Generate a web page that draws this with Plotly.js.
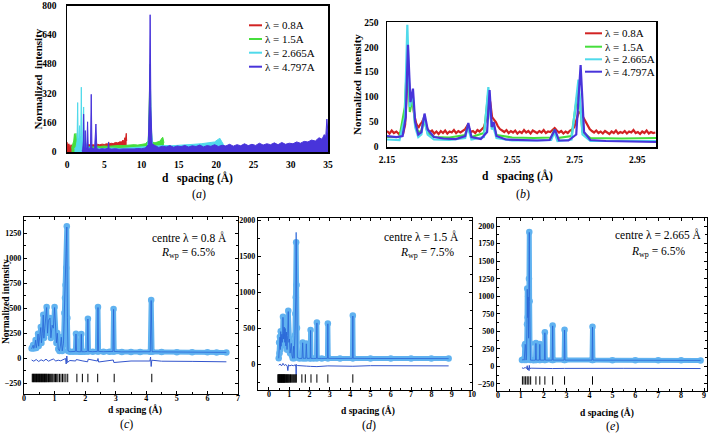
<!DOCTYPE html>
<html><head><meta charset="utf-8">
<script src="https://cdn.plot.ly/plotly-3.0.1.min.js"></script>
<style>html,body{margin:0;padding:0;background:#fff}#chart{width:716px;height:435px}</style>
</head><body><div id="chart"></div>
<script>
// ---------- Panel (a): full patterns ----------
const a_red_x = [0,0.1,0.25,0.4,0.55,0.7,0.9,1.1,1.4,1.7, 2.0,2.3,2.6,2.9,3.2,3.5,3.8,4.1,4.4,4.7, 5.0,5.3,5.5,5.58,5.68,5.9,6.2,6.5,6.8,7.1, 7.3,7.5,7.65,7.75,7.85,7.95,8.0];
const a_red_y = [55,30,45,25,40,22,35,28,30,35, 33,38,35,41,37,40,36,42,39,43, 41,45,43,55,44,48,46,52,50,56, 54,65,58,78,70,102,60];
const a_green_x = [0.6,0.75,0.9,1.0,1.1,1.2,1.3,1.5,1.8, 2.2,2.6,3.0,3.5,4.0,4.5,5.0,5.5, 6.0,6.5,7.0,7.5,8.0,8.5,9.0,9.5,10.0, 10.5,10.9,11.05,11.15,11.25,11.4, 11.8,12.2,12.5,12.7,12.85,13.0];
const a_green_y = [20,35,60,100,70,102,55,45,35, 30,28,30,28,32,30,33,31, 34,33,36,35,38,37,40,38,42, 45,60,300,480,200,55, 50,55,60,75,80,50];
const a_cyan_x = [1.0,1.2,1.35,1.43,1.5,1.6,1.69,1.78,1.85,1.92, 2.0,2.1,2.23,2.33,2.5,2.75,3.0,3.3,3.6,4.0, 4.5,5.0,6.0,7.0,8.0,9.0,10.0,10.8,11.0,11.15, 11.3,11.5,12,13,14,15,16,17,18,19, 19.8,20.3,20.5,20.7,21.0];
const a_cyan_y = [20,25,60,270,60,80,144,70,90,354, 60,70,246,30,50,20,25,18,20,22, 18,20,22,19,21,23,25,30,120,450, 120,35,33,36,34,38,40,42,45,50, 55,70,75,60,40];
const a_blue_x = [2.0,2.1,2.2,2.23,2.3,2.4,2.45,2.5,2.65,2.76, 2.85,3.0,3.15,3.25,3.35,3.5,3.7,3.88,4.0,4.3, 4.7,5.1,5.5,5.57,5.65,6.0,6.5,7.0,7.5,8.0, 8.5,9.0,9.5,10.0,10.5,10.9,11.05,11.15,11.25,11.4, 11.8,12.3,12.8,13.3,13.8,14.3,14.8,15.3,15.8,16.3, 16.8,17.3,17.8,18.3,18.8,19.3,19.8,20.3,20.8,21.3, 21.8,22.3,22.8,23.3,23.8,24.3,24.8,25.3,25.8,26.3, 26.8,27.3,27.8,28.3,28.8,29.3,29.8,30.3,30.8,31.3, 31.8,32.3,32.8,33.3,33.8,34.2,34.5,34.7,34.85,34.95, 35.0];
const a_blue_y = [10,15,60,207,25,30,117,20,25,165, 20,15,30,315,20,18,22,153,18,15, 18,16,20,54,18,16,18,15,17,16, 18,17,19,18,22,40,300,750,250,45, 35,25,32,28,35,26,33,29,36,27, 34,30,38,28,35,31,40,30,37,33, 42,32,40,34,45,35,42,36,48,38, 45,40,50,40,52,42,48,45,55,48, 58,55,65,60,78,70,95,85,180,120, 100];

// ---------- Panel (b): zoom 2.15-3.0 Å ----------
const b_red_x = [2.150,2.158,2.165,2.172,2.180,2.188,2.195,2.202,2.208,2.214, 2.219,2.225,2.231,2.237,2.243,2.250,2.256,2.262,2.268,2.274, 2.280,2.287,2.294,2.301,2.308,2.315,2.322,2.329,2.336,2.343, 2.350,2.357,2.364,2.371,2.378,2.385,2.392,2.399,2.406,2.412, 2.418,2.425,2.432,2.439,2.446,2.453,2.460,2.467,2.474,2.480, 2.486,2.492,2.498,2.504,2.511,2.518,2.525,2.532,2.539,2.546, 2.553,2.560,2.567,2.574,2.581,2.588,2.595,2.602,2.609,2.616, 2.623,2.630,2.637,2.644,2.651,2.658,2.665,2.672,2.679,2.686, 2.693,2.700,2.707,2.714,2.721,2.728,2.735,2.742,2.749,2.756, 2.763,2.770,2.777,2.784,2.791,2.798,2.805,2.812,2.819,2.826, 2.833,2.840,2.847,2.854,2.861,2.868,2.875,2.882,2.889,2.896, 2.903,2.910,2.917,2.924,2.931,2.938,2.945,2.952,2.959,2.966, 2.973,2.980,2.987,2.994,3.001,3.008];
const b_red_y = [32,27,33,28,31,26,30,28,45,120, 140,85,95,65,48,38,45,50,58,45, 35,30,33,27,31,26,32,28,33,27, 31,29,34,28,32,29,33,35,42,38, 30,32,28,34,31,36,40,55,100,90, 60,55,50,42,36,33,30,34,28,32, 29,33,27,31,28,34,29,32,27,33, 30,28,32,29,34,28,31,30,34,38, 33,29,32,27,31,28,33,35,40,55, 70,68,60,50,42,36,32,29,33,28, 31,27,32,29,26,31,28,33,27,30, 28,32,27,31,29,34,28,30,26,31, 28,33,27,30,28,29];
const b_green_x = [2.15,2.19,2.207,2.215,2.223,2.232,2.24,2.25,2.26,2.268, 2.28,2.30,2.35,2.40,2.408,2.42,2.46,2.474,2.485,2.49, 2.50,2.55,2.62,2.675,2.685,2.695,2.74,2.762,2.775,2.80, 2.90,3.01];
const b_green_y = [20,20,80,180,70,100,45,30,32,55, 28,20,19,24,42,20,28,110,40,45, 24,19,18,19,35,18,22,120,30,18, 17,18];
const b_cyan_x = [2.15,2.19,2.207,2.215,2.223,2.232,2.24,2.25,2.26,2.268, 2.28,2.30,2.35,2.40,2.408,2.42,2.46,2.474,2.485,2.49, 2.50,2.55,2.62,2.675,2.685,2.695,2.74,2.762,2.775,2.80, 2.90,3.01];
const b_cyan_y = [15,14,60,245,80,110,40,20,25,60, 25,15,14,18,40,15,20,120,35,40, 18,13,13,14,30,12,15,135,25,12, 12,12];
const b_blue_x = [2.15,2.18,2.20,2.21,2.217,2.225,2.233,2.24,2.25,2.26, 2.27,2.28,2.30,2.33,2.37,2.40,2.41,2.42,2.45,2.47, 2.478,2.485,2.491,2.50,2.53,2.58,2.63,2.67,2.687,2.70, 2.73,2.755,2.769,2.78,2.80,2.85,2.90,2.95,3.01];
const b_blue_y = [22,20,22,60,205,90,117,50,25,30, 67,35,20,17,16,22,48,20,16,30, 114,40,50,22,15,14,13,14,35,13, 13,25,164,30,14,12,11,11,10];

const legendLabels = ['λ = 0.8A','λ = 1.5A','λ = 2.665A','λ = 4.797A'];

// ---------- Panel (c): centre λ = 0.8 Å ----------
const c_obs_x = [0.25,0.28,0.30,0.32,0.35,0.38,0.40,0.43,0.46,0.48, 0.51,0.55,0.57,0.60,0.63,0.65,0.68,0.71,0.74,0.77, 0.80,0.85,0.88,0.92,0.96,1.00,1.03,1.06,1.09,1.12, 1.16,1.19,1.22,1.25,1.29,1.32,1.34,1.36,1.38,1.40, 1.42,1.44,1.50,1.60,1.68,1.70,1.72,1.80,1.86,1.875, 1.89,1.98,2.07,2.09,2.11,2.25,2.40,2.42,2.44,2.60, 2.80,2.91,2.93,2.95,3.20,3.50,3.80,4.13,4.16,4.19, 4.50,5.00,5.50,6.00,6.30,6.62];
const c_obs_y = [95,110,130,95,120,180,100,150,243,120, 200,310,150,250,433,200,300,420,510,250, 380,400,200,330,300,510,250,150,250,90, 70,120,210,70,150,450,600,730,900,1317, 400,70,62,62,65,243,65,62,62,240, 62,62,65,393,65,62,65,510,65,62, 62,65,490,65,60,60,60,62,580,62, 60,58,58,57,56,55];
const c_calc_y = [92,108,128,96,118,178,102,148,240,118, 198,305,152,248,430,198,298,418,505,248, 378,398,202,328,298,505,248,152,248,92, 72,118,208,72,148,448,598,725,895,1310, 402,72,63,63,66,240,66,63,63,238, 63,63,66,390,66,63,66,505,66,63, 63,66,486,66,61,61,61,63,575,63, 61,59,59,58,57,56];
const c_diff_x = [0.25,0.32,0.40,0.48,0.56,0.64,0.72,0.80,0.88,0.96, 1.04,1.12,1.20,1.28,1.36,1.38,1.40,1.42,1.50,1.69, 1.71,1.90,2.08,2.10,2.40,2.42,2.44,2.92,2.94,3.50, 4.12,4.14,4.16,4.18,4.50,5.50,6.62];
const c_diff_y = [-20,-32,-15,-35,-18,-30,-12,-32,-20,-10, -30,-22,-28,-20,-5,-60,20,-45,-25,-30, -15,-28,-38,-12,-30,-5,-40,-20,-45,-30, -30,10,-85,-22,-32,-34,-38];
const c_refl = [0.27,0.29,0.31,0.33,0.35,0.37,0.39,0.41,0.43,0.45, 0.47,0.49,0.51,0.53,0.55,0.57,0.59,0.61,0.63,0.65, 0.67,0.69,0.71,0.73,0.75,0.78,0.80,0.83,0.86,0.89, 0.92,0.95,0.99,1.03,1.07,1.11,1.16,1.21,1.26,1.31, 1.37,1.43,1.73,1.91,2.09,2.41,2.95,4.18];

// ---------- Panel (d): centre λ = 1.5 Å ----------
const d_obs_x = [0.48,0.50,0.52,0.54,0.56,0.58,0.60,0.63,0.66,0.69, 0.72,0.75,0.78,0.80,0.83,0.86,0.89,0.92,0.95,0.98, 1.01,1.04,1.07,1.10,1.13,1.17,1.21,1.24,1.28,1.30, 1.32,1.34,1.36,1.38,1.40,1.50,1.63,1.66,1.69,1.75, 1.81,1.84,1.87,2.00,2.03,2.05,2.07,2.20,2.34,2.36, 2.38,2.60,2.88,2.90,2.92,3.50,4.11,4.13,4.15,5.00, 6.00,7.00,8.00,8.85];
const d_obs_y = [80,300,150,380,200,458,250,420,300,657, 350,520,300,500,250,450,200,400,740,300, 350,150,200,292,120,80,250,80,400,700, 930,1694,1100,500,90,78,80,300,80,80, 80,285,80,80,80,472,80,78,80,579, 80,78,80,565,80,78,80,676,80,78, 78,77,77,76];
const d_calc_y = [80,295,152,375,202,452,248,415,302,650, 348,515,302,495,252,445,202,398,730,302, 348,152,202,288,122,80,248,80,398,695, 925,1830,1090,495,90,78,80,296,80,80, 80,282,80,80,80,468,80,78,80,572, 80,78,80,560,80,78,80,668,80,78, 78,77,77,76];
const d_diff_x = [0.48,0.55,0.62,0.69,0.76,0.83,0.90,0.93,0.96,1.03, 1.10,1.20,1.30,1.33,1.34,1.35,1.40,1.66,1.84,2.05, 2.36,2.90,4.13,5.0,7.0,8.85];
const d_diff_y = [-15,0,-25,10,-20,-5,-30,-90,-10,-25, -15,-22,-10,-40,-150,-5,-20,-30,-28,-32, -35,-25,-30,-22,-24,-25];
const d_refl = [0.44,0.46,0.48,0.50,0.52,0.54,0.56,0.58,0.60,0.62, 0.64,0.66,0.68,0.70,0.72,0.74,0.76,0.78,0.80,0.83, 0.86,0.89,0.92,0.95,0.98,1.02,1.06,1.10,1.15,1.20, 1.25,1.30,1.35,1.62,1.79,2.07,2.36,2.90,4.13];

// ---------- Panel (e): centre λ = 2.665 Å ----------
const e_obs_x = [1.05,1.10,1.15,1.17,1.19,1.21,1.23,1.25,1.27,1.28, 1.30,1.32,1.34,1.355,1.37,1.385,1.40,1.42,1.55,1.64, 1.66,1.68,1.81,1.83,1.85,2.03,2.05,2.07,2.37,2.39, 2.41,2.89,2.91,2.93,4.11,4.13,4.15,5.00,6.00,7.00, 8.00,8.85];
const e_obs_y = [90,100,90,300,319,300,90,150,600,1110, 700,1000,400,1250,1915,930,330,90,88,90, 333,90,90,319,90,90,486,90,90,585, 90,90,523,90,90,566,90,88,88,87, 87,86];
const e_calc_y = [90,98,90,295,315,296,90,148,595,1100, 695,990,402,1240,1910,925,328,90,88,90, 328,90,90,315,90,90,480,90,90,578, 90,90,518,90,90,560,90,88,88,87, 87,86];
const e_diff_x = [1.05,1.12,1.19,1.25,1.28,1.30,1.34,1.36,1.37,1.39, 1.45,1.66,1.83,2.05,2.39,2.91,4.13,5.5,8.85];
const e_diff_y = [-20,-28,-15,-30,10,-50,-20,-60,15,-30, -25,-28,-30,-26,-30,-28,-25,-27,-30];
const e_refl = [1.07,1.14,1.21,1.28,1.35,1.43, 1.66,1.83,2.05,2.39,2.91,4.13];

// ---------- styling ----------
const SERIF = 'Liberation Serif, Times New Roman, serif';
const COLS = ['rgb(210,35,35)','rgb(70,222,60)','rgb(80,218,235)','rgb(72,52,218)'];
const OBS = 'rgb(96,178,240)', CALC = 'rgb(40,100,215)', DIFF = 'rgb(50,85,205)';
const REFL_LEVEL = -200;
const W = 716, H = 435;
const P = x => x / W, Q = y => 1 - y / H;

const traces = [];
const aX = [a_red_x,a_green_x,a_cyan_x,a_blue_x], aY = [a_red_y,a_green_y,a_cyan_y,a_blue_y];
aX.forEach((xs,i) => traces.push({x:xs, y:aY[i], xaxis:'x', yaxis:'y', type:'scatter', mode:'lines',
  line:{color:COLS[i], width:1}, fill:'tozeroy', fillcolor:COLS[i], showlegend:false, hoverinfo:'skip'}));
const bX = [b_red_x,b_green_x,b_cyan_x,b_blue_x], bY = [b_red_y,b_green_y,b_cyan_y,b_blue_y];
bX.forEach((xs,i) => traces.push({x:xs, y:bY[i], xaxis:'x2', yaxis:'y2', type:'scatter', mode:'lines',
  line:{color:COLS[i], width:2.2}, showlegend:false, hoverinfo:'skip'}));

function rietveld(ax, ay, ox, oy, cy, dx, dy, refl) {
  traces.push({x:ox, y:oy, xaxis:ax, yaxis:ay, type:'scatter', mode:'lines+markers',
    line:{color:OBS, width:5}, marker:{color:OBS, size:6.5}, showlegend:false, hoverinfo:'skip'});
  traces.push({x:ox, y:cy, xaxis:ax, yaxis:ay, type:'scatter', mode:'lines',
    line:{color:CALC, width:0.8}, showlegend:false, hoverinfo:'skip'});
  traces.push({x:dx, y:dy, xaxis:ax, yaxis:ay, type:'scatter', mode:'lines',
    line:{color:DIFF, width:1}, showlegend:false, hoverinfo:'skip'});
  traces.push({x:refl, y:refl.map(() => REFL_LEVEL), xaxis:ax, yaxis:ay, type:'scatter', mode:'markers',
    marker:{symbol:'line-ns-open', size:6, color:'#000', line:{width:1, color:'#000'}}, showlegend:false, hoverinfo:'skip'});
}
rietveld('x3','y3', c_obs_x, c_obs_y, c_calc_y, c_diff_x, c_diff_y, c_refl);
rietveld('x4','y4', d_obs_x, d_obs_y, d_calc_y, d_diff_x, d_diff_y, d_refl);
rietveld('x5','y5', e_obs_x, e_obs_y, e_calc_y, e_diff_x, e_diff_y, e_refl);

const tfA = {family:SERIF, size:9.5, color:'#000', weight:'bold'};
const tfC = {family:SERIF, size:8, color:'#000', weight:'bold'};
function axTop(dom, extra, anchor) {
  return Object.assign({domain:dom, anchor:anchor, showline:true, mirror:true, linecolor:'#000', linewidth:1.5,
    ticks:'', showgrid:false, zeroline:false, tickfont:tfA, ticklabelstandoff:3, ticklabeloverflow:'allow', fixedrange:true}, extra);
}
function axBot(dom, extra, anchor, minorD) {
  return Object.assign({domain:dom, anchor:anchor, showline:true, mirror:'allticks', linecolor:'#000', linewidth:1.2,
    ticks:'inside', ticklen:3, tickwidth:1, tickcolor:'#000', showgrid:false, zeroline:false, tickfont:tfC, ticklabeloverflow:'allow',
    minor:{ticks:'inside', ticklen:2, tickwidth:1, tickcolor:'#000', dtick:minorD, showgrid:false}, fixedrange:true}, extra);
}

const layout = {
  width:W, height:H, margin:{l:0,r:0,t:0,b:0}, paper_bgcolor:'#fff', plot_bgcolor:'#fff', showlegend:false,
  font:{family:SERIF, color:'#000'},
  xaxis: axTop([P(67),P(328)], {range:[0,35], dtick:5, tick0:0}, 'y'),
  yaxis: axTop([Q(152),Q(5.5)], {range:[0,800.5], dtick:160, tick0:0, ticklabelstandoff:7}, 'x'),
  xaxis2: axTop([P(387),P(656)], {range:[2.15,3.01], dtick:0.2, tick0:2.15, tickformat:'.2f'}, 'y2'),
  yaxis2: axTop([Q(147),Q(22)], {range:[0,250.5], dtick:50, tick0:0, ticklabelstandoff:5}, 'x2'),
  xaxis3: axBot([P(24),P(238)], {range:[0,7], dtick:1, tick0:0, ticklabelstandoff:-4}, 'y3', 0.5),
  yaxis3: axBot([Q(394),Q(217)], {range:[-360,1410], dtick:250, tick0:0}, 'x3', 125),
  xaxis4: axBot([P(258),P(472)], {range:[-0.54,10], dtick:1, tick0:0, ticklabelstandoff:-4}, 'y4', 0.5),
  yaxis4: axBot([Q(390),Q(218)], {range:[-360,2030], dtick:500, tick0:0}, 'x4', 250),
  xaxis5: axBot([P(497),P(707)], {range:[-0.04,9.13], dtick:1, tick0:0, ticklabelstandoff:-4}, 'y5', 0.5),
  yaxis5: axBot([Q(391),Q(218)], {range:[-350,2115], dtick:250, tick0:0}, 'x5', 125),
  shapes: [], annotations: []
};

function note(text, x, y, size, opts) {
  layout.annotations.push(Object.assign({text:text, xref:'paper', yref:'paper', x:P(x), y:Q(y),
    xanchor:'center', yanchor:'middle', showarrow:false, font:{family:SERIF, size:size, color:'#000'}}, opts||{}));
}
// axis titles
note('<b>Normalized  intensity</b>', 37.5, 79, 11, {textangle:-90});
note('<b>Normalized  intensity</b>', 357, 85, 11, {textangle:-90});
note('<b>d   spacing (Å)</b>', 197.5, 177.5, 11.5);
note('<b>d   spacing (Å)</b>', 517.5, 176, 11.5);
note('<b>Normalized intensity</b>', 6, 302, 9.5, {textangle:-90});
note('<b>d spacing (Å)</b>', 135, 409.5, 9.5);
note('<b>d spacing (Å)</b>', 367.5, 410.5, 9.5);
note('<b>d spacing (Å)</b>', 607, 412.5, 9.5);
// panel labels
note('(<i>a</i>)', 199, 194, 12);
note('(<i>b</i>)', 523, 194, 12);
note('(<i>c</i>)', 126, 424, 12);
note('(<i>d</i>)', 369, 425, 12);
note('(<i>e</i>)', 612, 426, 12);
// fit annotations
note('centre λ = 0.8 Å', 189.5, 237, 11.5);
note('<i>R</i><sub>wp</sub> = 6.5%', 188, 253, 11.5);
note('centre λ = 1.5 Å', 421, 236, 11.5);
note('<i>R</i><sub>wp</sub> = 7.5%', 427, 253, 11.5);
note('centre λ = 2.665 Å', 658, 234.5, 11.5);
note('<i>R</i><sub>wp</sub> = 6.5%', 658, 252, 11.5);
// hand-placed legends (a) and (b)
const legA = [25.3, 39, 52.7, 66.7], legB = [33.3, 46.7, 59.3, 71.7];
legendLabels.forEach((lab, i) => {
  layout.shapes.push({type:'line', xref:'paper', yref:'paper', x0:P(249), x1:P(262), y0:Q(legA[i]), y1:Q(legA[i]), line:{color:COLS[i], width:2}});
  note(lab, 263, legA[i], 11, {xanchor:'left'});
  layout.shapes.push({type:'line', xref:'paper', yref:'paper', x0:P(585), x1:P(602), y0:Q(legB[i]), y1:Q(legB[i]), line:{color:COLS[i], width:2}});
  note(lab, 603, legB[i], 11, {xanchor:'left'});
});

Plotly.newPlot('chart', traces, layout, {staticPlot:true, displayModeBar:false});
</script></body></html>
